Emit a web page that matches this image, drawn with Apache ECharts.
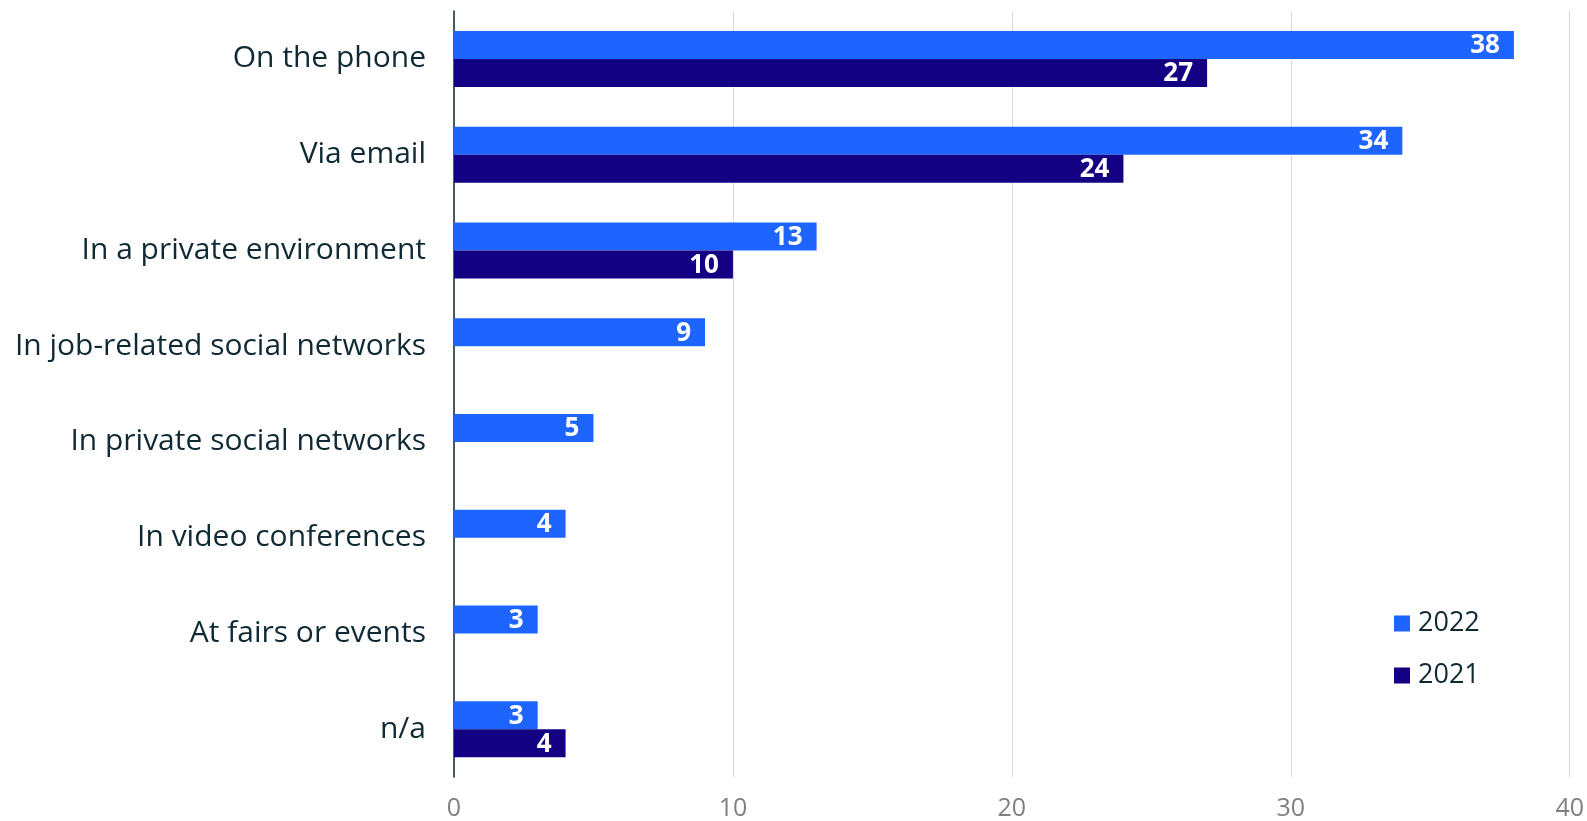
<!DOCTYPE html>
<html>
<head>
<meta charset="utf-8">
<script src="https://cdn.jsdelivr.net/npm/echarts@6/dist/echarts.min.js"></script>
<style>
  html, body { margin: 0; padding: 0; background: #ffffff; }
  #chart { width: 1587px; height: 821px; }
</style>
</head>
<body>
<div id="chart"></div>
<script>
// Where contact happened, share of respondents by year
const categories = [
  'On the phone',
  'Via email',
  'In a private environment',
  'In job-related social networks',
  'In private social networks',
  'In video conferences',
  'At fairs or events',
  'n/a'
];
const values2022 = [38, 34, 13, 9, 5, 4, 3, 3];
const values2021 = [27, 24, 10, null, null, null, null, 4];
const seriesNames = ['2022', '2021'];
const xTicks = { min: 0, max: 40, interval: 10 };

const textDark = '#0f2a35';
const fontFamily = '"Open Sans", "Noto Sans", sans-serif';

const barLabel = {
  show: true,
  position: 'insideRight',
  distance: 14,
  offset: [0, 1],
  color: '#ffffff',
  fontWeight: 'bold',
  fontSize: 26,
  fontFamily: fontFamily,
  formatter: p => (p.value == null ? '' : p.value)
};

const chart = echarts.init(document.getElementById('chart'), null, { renderer: 'canvas' });
chart.setOption({
  animation: false,
  backgroundColor: '#ffffff',
  grid: { left: 454, right: 16, top: 11, bottom: 44, containLabel: false },
  legend: {
    orient: 'vertical',
    left: 1389,
    top: 605,
    itemWidth: 16,
    itemHeight: 16,
    itemGap: 25,
    icon: 'rect',
    textStyle: { color: textDark, fontSize: 27, fontFamily: fontFamily, padding: [0, 0, 0, 3] },
    data: seriesNames
  },
  xAxis: {
    type: 'value',
    min: xTicks.min,
    max: xTicks.max,
    interval: xTicks.interval,
    axisLine: { show: false },
    axisTick: { show: false },
    splitLine: { show: true, lineStyle: { color: '#d9d9d9', width: 1 } },
    axisLabel: { color: '#7f7f7f', fontSize: 25, fontFamily: fontFamily, margin: 19 }
  },
  yAxis: {
    type: 'category',
    inverse: true,
    data: categories,
    axisLine: { show: true, lineStyle: { color: '#0f2a35', width: 1.5 } },
    axisTick: { show: false },
    axisLabel: { color: textDark, fontSize: 30, fontFamily: fontFamily, margin: 28 }
  },
  series: [
    {
      name: seriesNames[0],
      type: 'bar',
      data: values2022,
      barWidth: 28,
      barGap: '0%',
      itemStyle: { color: '#1e64ff' },
      label: barLabel
    },
    {
      name: seriesNames[1],
      type: 'bar',
      data: values2021,
      barWidth: 28,
      barGap: '0%',
      itemStyle: { color: '#140082' },
      label: barLabel
    }
  ]
});
</script>
</body>
</html>
